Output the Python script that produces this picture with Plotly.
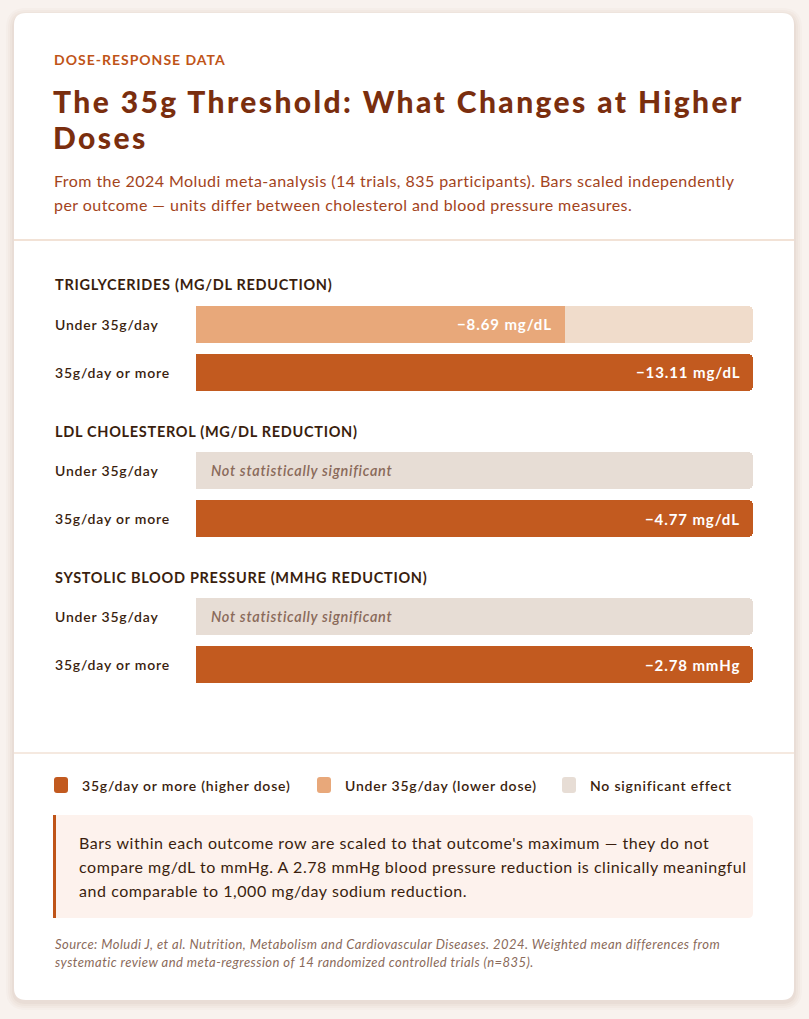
import plotly.graph_objects as go

W, H = 809, 1019

# ---------------- data ----------------
outcomes = ["Triglycerides (mg/dL reduction)", "LDL Cholesterol (mg/dL reduction)", "Systolic Blood Pressure (mmHg reduction)"]
units = ["mg/dL", "mg/dL", "mmHg"]
dose_groups = ["Under 35g/day", "35g/day or more"]
under_35 = [8.69, None, None]        # None = not statistically significant
over_35 = [13.11, 4.77, 2.78]
legend_labels = ["35g/day or more (higher dose)", "Under 35g/day (lower dose)", "No significant effect"]

# ---------------- style ----------------
FONT = "Lato"
C_BG = "#f8f2ee"
C_DARK = "#c25a1f"
C_LIGHT = "#e8a87a"
C_TRACK = "#f0dccb"
C_NS = "#e7ddd5"
C_TITLE = "#7a2e0e"
C_ACCENT = "#bf5418"
C_SUB = "#a3441c"
C_TEXT = "#3a1e0e"
C_MUTED = "#8a6a5a"


def px(x):
    return x / W


def py(y):
    return 1 - y / H


def ls(s, sp):
    return f'<span style="letter-spacing:{sp}px">{s}</span>'


def rrect(x0, y0, x1, y1, r, rl=None):
    """rounded rectangle path in paper coords, inputs in pixels"""
    rl = r if rl is None else rl
    rx, ry = r / W, r / H
    rlx, rly = rl / W, rl / H
    X0, X1 = px(x0), px(x1)
    Y0, Y1 = py(y0), py(y1)  # Y0 top (larger)
    return (f"M{X0 + rlx},{Y0} L{X1 - rx},{Y0} Q{X1},{Y0} {X1},{Y0 - ry} "
            f"L{X1},{Y1 + ry} Q{X1},{Y1} {X1 - rx},{Y1} L{X0 + rlx},{Y1} "
            f"Q{X0},{Y1} {X0},{Y1 + rly} L{X0},{Y0 - rly} Q{X0},{Y0} {X0 + rlx},{Y0} Z")


fig = go.Figure()
shapes = []
annotations = []

# card shadow + card
for i, a in enumerate([0.018, 0.022, 0.028, 0.035]):
    e = 8 - i * 2
    shapes.append(dict(type="path", xref="paper", yref="paper", layer="below",
                       path=rrect(14 - e, 14 - e + 2, 794 + e, 1000 + e + 2, 12 + e),
                       fillcolor=f"rgba(120,60,20,{a})", line=dict(width=0)))
shapes.append(dict(type="path", xref="paper", yref="paper", layer="below",
                   path=rrect(14, 13, 794, 1000, 12), fillcolor="white", line=dict(width=0)))

# dividers
for yy in (240, 753):
    shapes.append(dict(type="line", xref="paper", yref="paper", layer="below",
                       x0=px(14), x1=px(794), y0=py(yy), y1=py(yy),
                       line=dict(color="#f2e2d6", width=2 if yy == 240 else 1.5)))


def text(x, y, s, size, color, weight="normal", style="normal", xanchor="left", sp=0):
    annotations.append(dict(x=px(x), y=py(y), xref="paper", yref="paper", text=ls(s, sp) if sp else s,
                            showarrow=False, xanchor=xanchor, yanchor="middle",
                            font=dict(family=FONT, size=size, color=color, weight=weight, style=style)))


# header
text(52, 59, "DOSE-RESPONSE DATA", 14, C_ACCENT, weight="bold", sp=1.0)
text(51, 101, "The 35g Threshold: What Changes at Higher", 30, C_TITLE, weight=900, sp=2.4)
text(51, 137, "Doses", 30, C_TITLE, weight=900, sp=2.4)
text(52, 180, "From the 2024 Moludi meta-analysis (14 trials, 835 participants). Bars scaled independently", 16, C_SUB, sp=0.45)
text(52, 204, "per outcome \u2014 units differ between cholesterol and blood pressure measures.", 16, C_SUB, sp=0.45)

# bar groups
header_y = [284, 431, 577]
bar_top = [306, 452, 598]
ROW = 48
BAR_H = 37
X0_BAR, X1_BAR = 196, 753

layout_axes = {}
for i, name in enumerate(outcomes):
    top = bar_top[i] - (ROW - BAR_H) / 2
    bottom = top + 2 * ROW
    xa = "x" if i == 0 else f"x{i + 1}"
    ya = "y" if i == 0 else f"y{i + 1}"
    vmax = max(v for v in (under_35[i], over_35[i]) if v is not None)

    text(53, header_y[i], name.upper(), 14.5, C_TEXT, weight="bold", sp=0.7)

    under_sig = under_35[i] is not None
    track_colors = [C_TRACK if under_sig else C_NS, C_TRACK]
    fig.add_trace(go.Bar(orientation="h", y=dose_groups, x=[vmax, vmax], xaxis=xa, yaxis=ya,
                         marker=dict(color=track_colors, cornerradius=5, line=dict(width=0)),
                         width=BAR_H / ROW, hoverinfo="skip", showlegend=False))
    fig.add_trace(go.Bar(orientation="h", y=dose_groups, x=[under_35[i], over_35[i]], xaxis=xa, yaxis=ya,
                         marker=dict(color=[C_LIGHT, C_DARK], cornerradius=5, line=dict(width=0)),
                         width=BAR_H / ROW, hoverinfo="skip", showlegend=False))

    for g, v in zip(dose_groups, (under_35[i], over_35[i])):
        # row label
        annotations.append(dict(x=px(53), xref="paper", y=g, yref=ya, text=ls(g, 0.8), showarrow=False,
                                xanchor="left", yanchor="middle",
                                font=dict(family=FONT, size=14, color=C_TEXT, weight=600)))
        if v is None:
            annotations.append(dict(x=0, xref=xa, y=g, yref=ya, text=ls("Not statistically significant", 0.7),
                                    showarrow=False, xanchor="left", yanchor="middle", xshift=13,
                                    font=dict(family=FONT, size=14.5, color=C_MUTED, weight=600, style="italic")))
        else:
            annotations.append(dict(x=v, xref=xa, y=g, yref=ya, text=ls(f"\u2212{v:.2f} {units[i]}", 0.9),
                                    showarrow=False, xanchor="right", yanchor="middle", xshift=-11,
                                    font=dict(family=FONT, size=15, color="white", weight="bold")))

    layout_axes[("xaxis" if i == 0 else f"xaxis{i + 1}")] = dict(
        domain=[px(X0_BAR), px(X1_BAR)], range=[0, vmax], anchor=ya, visible=False, fixedrange=True)
    layout_axes[("yaxis" if i == 0 else f"yaxis{i + 1}")] = dict(
        domain=[py(bottom), py(top)], type="category", categoryorder="array", categoryarray=dose_groups,
        range=[1.5, -0.5], anchor=xa, visible=False, fixedrange=True)

# legend
legend_colors = [C_DARK, C_LIGHT, C_NS]
legend_x = [54, 317, 562]
for lx, lab, col in zip(legend_x, legend_labels, legend_colors):
    shapes.append(dict(type="path", xref="paper", yref="paper", path=rrect(lx, 777, lx + 14, 793, 3),
                       fillcolor=col, line=dict(width=0)))
    text(lx + 26, 785, lab, 14, C_TEXT, weight=600, sp=0.8)

# note box
shapes.append(dict(type="path", xref="paper", yref="paper", layer="below",
                   path=rrect(53, 815, 753, 918, 5, rl=2), fillcolor="#fdf2ed", line=dict(width=0)))
shapes.append(dict(type="rect", xref="paper", yref="paper", layer="below",
                   x0=px(53), x1=px(56), y0=py(918), y1=py(815), fillcolor=C_ACCENT, line=dict(width=0)))
note_lines = [
    "Bars within each outcome row are scaled to that outcome's maximum \u2014 they do not",
    "compare mg/dL to mmHg. A 2.78 mmHg blood pressure reduction is clinically meaningful",
    "and comparable to 1,000 mg/day sodium reduction.",
]
for k, ln in enumerate(note_lines):
    text(77, 842 + 24 * k, ln, 16, C_TEXT, sp=0.55)

source_lines = [
    "Source: Moludi J, et al. Nutrition, Metabolism and Cardiovascular Diseases. 2024. Weighted mean differences from",
    "systematic review and meta-regression of 14 randomized controlled trials (n=835).",
]
for k, ln in enumerate(source_lines):
    text(53, 944 + 18 * k, ln, 13, C_MUTED, style="italic", sp=0.45)

fig.update_layout(
    width=W, height=H, margin=dict(l=0, r=0, t=0, b=0, pad=0),
    paper_bgcolor=C_BG, plot_bgcolor="rgba(0,0,0,0)",
    barmode="overlay", bargap=0, showlegend=False,
    shapes=shapes, annotations=annotations, **layout_axes,
)

fig.write_html("out.html", config={"displayModeBar": False, "staticPlot": True})
